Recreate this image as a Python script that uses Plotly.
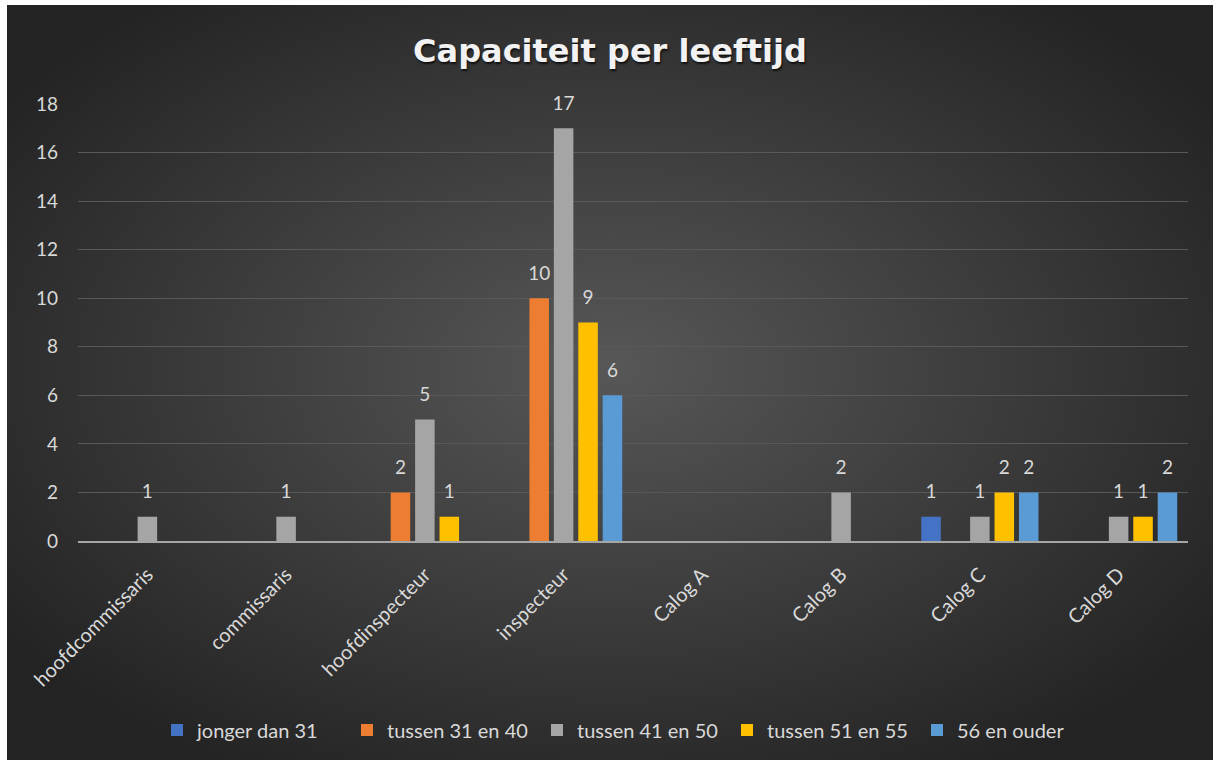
import base64
import plotly.graph_objects as go

categories = ["hoofdcommissaris", "commissaris", "hoofdinspecteur", "inspecteur",
              "Calog A", "Calog B", "Calog C", "Calog D"]
series_names = ["jonger dan 31", "tussen 31 en 40", "tussen 41 en 50",
                "tussen 51 en 55", "56 en ouder"]
jonger_dan_31 = [0, 0, 0, 0, 0, 0, 1, 0]
tussen_31_40 = [0, 0, 2, 10, 0, 0, 0, 0]
tussen_41_50 = [1, 1, 5, 17, 0, 2, 1, 1]
tussen_51_55 = [0, 0, 1, 9, 0, 0, 2, 1]
en_ouder_56 = [0, 0, 0, 6, 0, 0, 2, 2]
y_ticks = [0, 2, 4, 6, 8, 10, 12, 14, 16, 18]

series_values = [jonger_dan_31, tussen_31_40, tussen_41_50, tussen_51_55, en_ouder_56]
colors = ["#4472C4", "#ED7D31", "#A5A5A5", "#FFC000", "#5B9BD5"]

W, H = 1213, 760
L, R, T, B = 78, 25, 104, 219
pw, ph = W - L - R, H - T - B

svg = f'''<svg xmlns="http://www.w3.org/2000/svg" width="{W-7}" height="{H-5}">
<defs><radialGradient id="g" cx="50%" cy="48%" r="62%">
<stop offset="0%" stop-color="#575757"/><stop offset="100%" stop-color="#232323"/>
</radialGradient></defs>
<rect width="100%" height="100%" fill="url(#g)"/></svg>'''
src = "data:image/svg+xml;base64," + base64.b64encode(svg.encode()).decode()

font = "Lato, 'Open Sans', sans-serif"
GAP = 0.12
fig = go.Figure()
for i, (name, vals, col) in enumerate(zip(series_names, series_values, colors)):
    fig.add_trace(go.Bar(
        x=categories, y=vals, name=name,
        marker=dict(color=col, line=dict(width=0)),
        offsetgroup=str(i), alignmentgroup="g",
        hoverinfo="x+y+name",
    ))
for i, vals in enumerate(series_values):
    fig.add_trace(go.Scatter(
        x=categories, y=vals, mode="markers+text",
        text=[str(v) if v else "" for v in vals],
        textposition="top center",
        marker=dict(size=20, opacity=0),
        offsetgroup=str(i), alignmentgroup="g",
        showlegend=False, hoverinfo="skip", cliponaxis=False,
        textfont=dict(size=19, color="#D9D9D9", family=font),
    ))

fig.update_layout(
    width=W, height=H,
    margin=dict(l=L, r=R, t=T, b=B, autoexpand=False),
    paper_bgcolor="white", plot_bgcolor="rgba(0,0,0,0)",
    barmode="group", bargap=GAP, bargroupgap=0.2,
    scattermode="group", scattergap=GAP,
    images=[dict(source=src, xref="paper", yref="paper",
                 x=(7 - L) / pw, y=(H - B - 5) / ph,
                 sizex=(W - 7) / pw, sizey=(H - 5) / ph,
                 xanchor="left", yanchor="top", sizing="stretch", layer="below")],
    title=dict(text="<b>Capaciteit per leeftijd</b>", x=(610 - L) / pw, xref="paper",
               xanchor="center", y=1 - 51 / H, yref="container", yanchor="middle",
               font=dict(size=32, color="#F2F2F2", family="DejaVu Sans",
                         shadow="1px 2px 2px rgba(0,0,0,0.7)")),
    font=dict(family=font, color="#D9D9D9"),
    xaxis=dict(tickangle=-45, tickfont=dict(size=20, color="#D9D9D9"),
               showgrid=False, showline=True, linecolor="#A6A6A6", linewidth=2,
               ticks="", ticklabelstandoff=12),
    yaxis=dict(range=[0, 18], tickvals=y_ticks, tickfont=dict(size=19, color="#D9D9D9"),
               showgrid=True, gridcolor="#595959", gridwidth=1.2,
               zeroline=False, showline=False, ticks="", ticklabelstandoff=19),
    legend=dict(orientation="h", x=(157 - L) / pw, xanchor="left",
                y=-(730 - (H - B)) / ph, yanchor="middle",
                font=dict(size=20, color="#D9D9D9", family=font),
                bgcolor="rgba(0,0,0,0)", itemwidth=30, traceorder="normal",
                entrywidth=145, entrywidthmode="pixels"),
)
fig.write_html("out.html", config={"displayModeBar": False},
               post_script="document.body.style.margin='0';document.body.style.overflow='hidden';")
